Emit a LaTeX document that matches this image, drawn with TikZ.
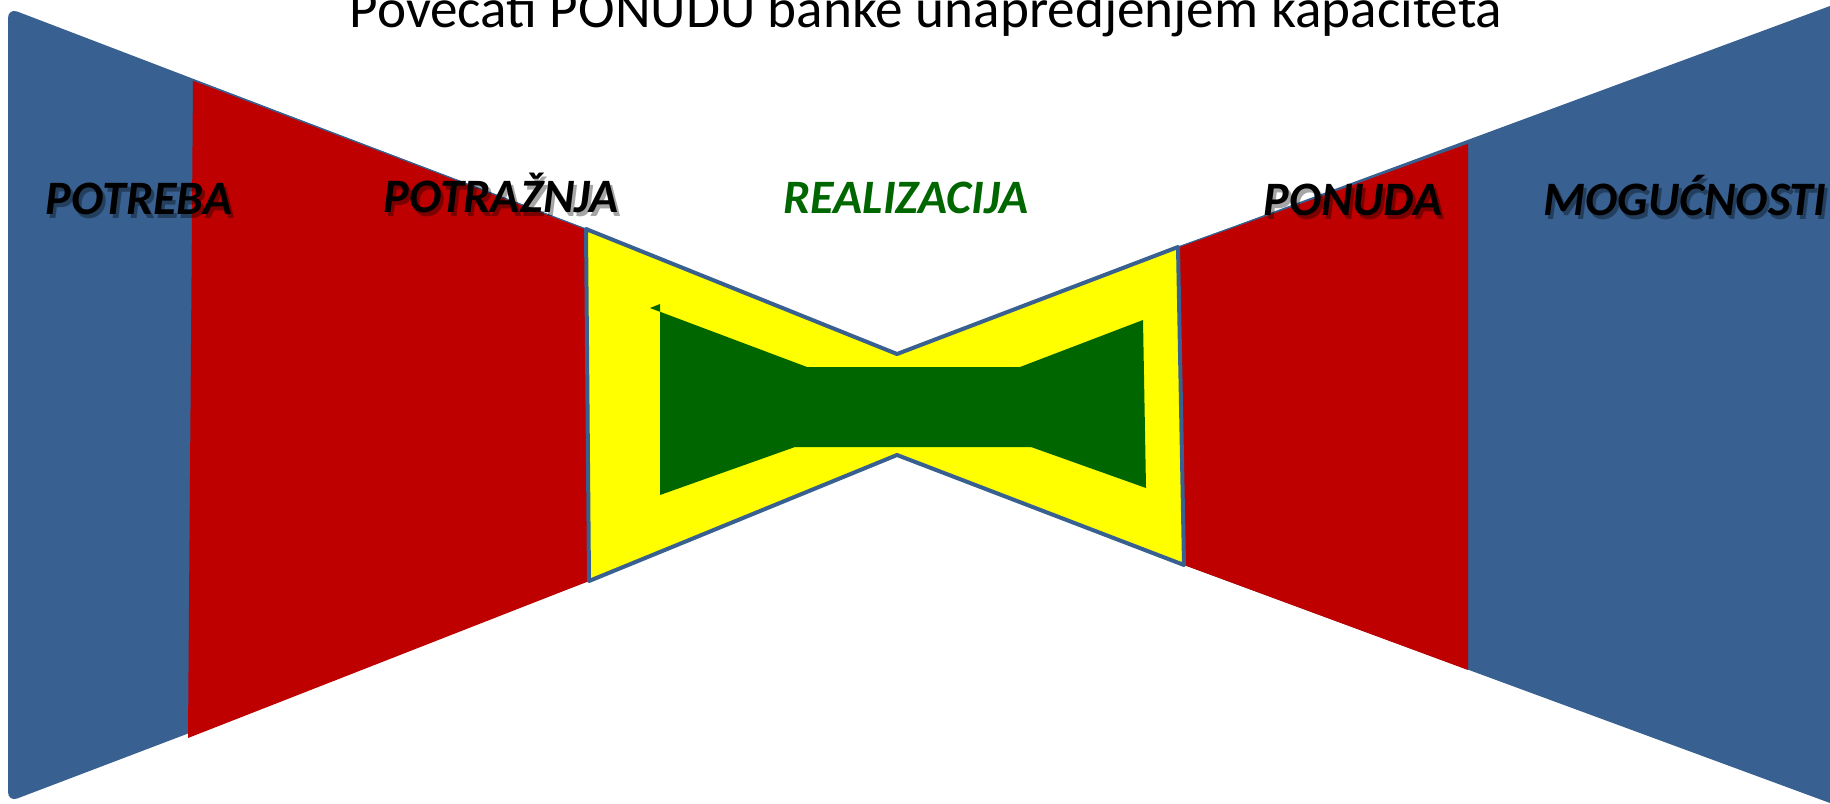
\documentclass[tikz,border=0pt]{standalone}
\usepackage{fontspec}
\setmainfont{Carlito}
\definecolor{bandblue}{RGB}{56,96,144}
\definecolor{bandred}{RGB}{190,0,0}
\definecolor{coreyellow}{RGB}{255,255,0}
\definecolor{coregreen}{RGB}{0,102,0}
\tikzset{
    lbl/.style={font=\fontsize{24}{28}\selectfont\bfseries\itshape, inner sep=0pt, anchor=base},
    lblshadow/.style={lbl, text=black, opacity=0.35},
    edge/.style={bandblue, line width=2pt, line join=round}
}
\begin{document}
\begin{tikzpicture}[x=0.5pt, y=-0.5pt]
    \useasboundingbox (0,0) rectangle (1830,803);
    % outer bands
    \fill[bandblue] (586,229) [rounded corners=5] -- (8,8) -- (8,802) [sharp corners] -- (589,581) -- cycle;
    \fill[bandblue] (1178,247) -- (1830,6) -- (1830,803) -- (1184,565) -- cycle;
    \fill[bandred] (193,80) -- (586,229) -- (589,581) -- (188,738) -- cycle;
    \fill[bandred] (1178,247) -- (1468,143) -- (1468,670) -- (1184,565) -- cycle;
    \draw[bandblue, line width=0.6pt] (193,80) -- (586,229);
    \draw[bandblue, line width=0.6pt] (1178,247) -- (1468,143);
    % core
    \filldraw[edge, fill=coreyellow] (586,229) -- (897,354) -- (1178,247) -- (1184,565) -- (897,455) -- (589,581) -- cycle;
    \fill[coregreen] (650,308) -- (807,367) -- (1020,367) -- (1143,320) -- (1146,488) -- (1031,447) -- (795,447) -- (660,495) -- (660,304) -- cycle;
    % texts
    \node[font=\fontsize{27.6}{32}\selectfont, inner sep=0pt, anchor=base] (title) at (926,27) {Povecati PONUDU banke unapredjenjem kapaciteta};
    \foreach \nm/\px/\py/\txt in {potreba/139/214/POTREBA, potraznja/501/212/POTRAŽNJA, ponuda/1353/215/PONUDA, mogucnosti/1685/215/MOGUĆNOSTI} {
        \node[lblshadow] (\nm-s) at (\px+3,\py+4) {\txt};
        \node[lbl] (\nm) at (\px,\py) {\txt};
    }
    \node[lbl, text=coregreen] (realizacija) at (906,213) {REALIZACIJA};
\end{tikzpicture}
\end{document}
